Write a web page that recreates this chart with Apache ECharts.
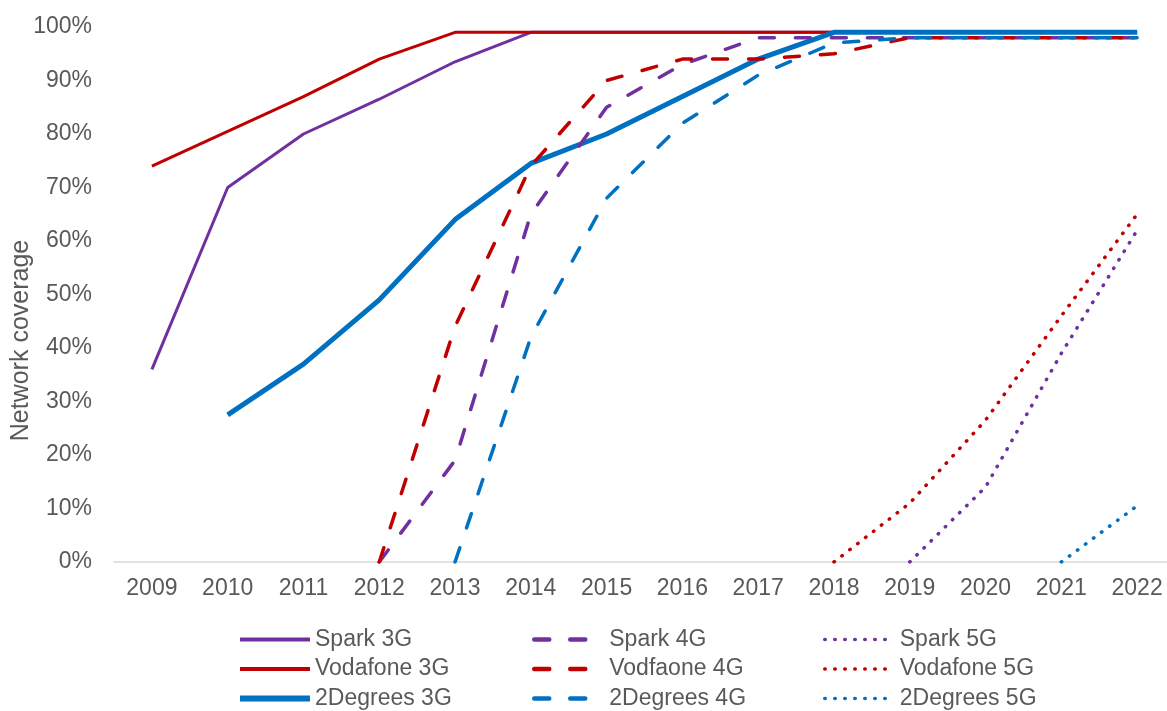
<!DOCTYPE html>
<html>
<head>
<meta charset="utf-8">
<script src="https://cdn.jsdelivr.net/npm/echarts@6/dist/echarts.min.js"></script>
<style>
html,body{margin:0;padding:0;background:#fff;}
#chart{width:1167px;height:711px;}
</style>
</head>
<body>
<div id="chart"></div>
<script>
const years = ['2009','2010','2011','2012','2013','2014','2015','2016','2017','2018','2019','2020','2021','2022'];
const yTicks = [0,10,20,30,40,50,60,70,80,90,100];

const spark3G     = [36, 70, 80, 86.5, 93.5, 99, 99, 99, 99, 99, 99, 99, 99, 99];
const vodafone3G  = [74, 80.5, 87, 94, 99, 99, 99, 99, 99, 99, 99, 99, 99, 99];
const twoDeg3G    = [null, 27.5, 37, 49, 64, 74.5, 80, 87, 94, 99, 99, 99, 99, 99];
const spark4G     = [null, null, null, 0, 19, 65, 85, 93, 98, 98, 98, 98, 98, 98];
const vodafone4G  = [null, null, null, 0, 44, 74, 90, 94, 94, 95, 98, 98, 98, 98];
const twoDeg4G    = [null, null, null, null, 0, 42, 68, 82, 91, 97, 98, 98, 98, 98];
const spark5G     = [null, null, null, null, null, null, null, null, null, null, 0, 14, 39, 62];
const vodafone5G  = [null, null, null, null, null, null, null, null, null, 0, 11, 26.5, 46, 65];
const twoDeg5G    = [null, null, null, null, null, null, null, null, null, null, null, null, 0, 10.5];

const PURPLE = '#7030A0', RED = '#C00000', BLUE = '#0070C0';
const FONT = '"Liberation Sans", Arial, sans-serif';
const TXT = '#595959';
const FS = 23;
const DASH = [15, 21];
const DOT = [0.5, 9.5];

function mk(name, data, color, kind, width) {
  const ls = { color: color, width: width };
  if (kind === 'dash') { ls.type = DASH; ls.cap = 'round'; }
  if (kind === 'dot') { ls.type = DOT; ls.cap = 'round'; }
  return {
    name: name, type: 'line', data: data, symbol: 'none',
    lineStyle: ls, itemStyle: { color: color },
    connectNulls: false, animation: false, silent: true
  };
}

const series = [
  mk('Spark 3G', spark3G, PURPLE, 'solid', 3),
  mk('Vodafone 3G', vodafone3G, RED, 'solid', 3),
  mk('2Degrees 3G', twoDeg3G, BLUE, 'solid', 5),
  mk('Spark 4G', spark4G, PURPLE, 'dash', 3.5),
  mk('Vodfaone 4G', vodafone4G, RED, 'dash', 3.5),
  mk('2Degrees 4G', twoDeg4G, BLUE, 'dash', 3.5),
  mk('Spark 5G', spark5G, PURPLE, 'dot', 3.5),
  mk('Vodafone 5G', vodafone5G, RED, 'dot', 3.5),
  mk('2Degrees 5G', twoDeg5G, BLUE, 'dot', 3.5)
];

function item(name, color, kind, width) {
  const ls = { color: color, width: width, type: 'solid' };
  if (kind === 'dash') { ls.type = DASH; ls.cap = 'round'; }
  if (kind === 'dot') { ls.type = DOT; ls.cap = 'round'; }
  return { name: name, lineStyle: ls, itemStyle: { opacity: 0 } };
}

function legend(left, items) {
  return {
    left: left, top: 623, height: 100, orient: 'vertical',
    itemWidth: 70, itemHeight: 14, itemGap: 6.5,
    selectedMode: false,
    itemStyle: { opacity: 0 },
    textStyle: { fontFamily: FONT, fontSize: FS, color: TXT, lineHeight: 23 },
    data: items
  };
}

const chart = echarts.init(document.getElementById('chart'), null, { renderer: 'canvas' });
chart.setOption({
  backgroundColor: '#fff',
  animation: false,
  grid: { left: 114, right: -8, top: 27, bottom: 149, containLabel: false, outerBoundsMode: 'none' },
  xAxis: {
    type: 'category', data: years, boundaryGap: true,
    axisLine: { show: true, lineStyle: { color: '#d9d9d9', width: 1.5 } },
    axisTick: { show: false },
    axisLabel: { fontFamily: FONT, fontSize: FS, color: TXT, margin: 15, interval: 0 },
    splitLine: { show: false }
  },
  yAxis: {
    type: 'value', min: 0, max: 100, interval: 10,
    name: 'Network coverage', nameLocation: 'middle', nameGap: 80, nameMoveOverlap: false,
    nameTextStyle: { fontFamily: FONT, fontSize: 25, color: TXT, padding: [0, 92, 0, 0] },
    axisLine: { show: false }, axisTick: { show: false },
    splitLine: { show: false },
    axisLabel: { fontFamily: FONT, fontSize: FS, color: TXT, margin: 22,
      formatter: function (v) { return yTicks.indexOf(v) >= 0 ? v + '%' : ''; } }
  },
  legend: [
    legend(232, [item('Spark 3G', PURPLE, 'solid', 4), item('Vodafone 3G', RED, 'solid', 4), item('2Degrees 3G', BLUE, 'solid', 6)]),
    legend(527, [item('Spark 4G', PURPLE, 'dash', 4.5), item('Vodfaone 4G', RED, 'dash', 4.5), item('2Degrees 4G', BLUE, 'dash', 4.5)]),
    legend(818, [item('Spark 5G', PURPLE, 'dot', 3.5), item('Vodafone 5G', RED, 'dot', 3.5), item('2Degrees 5G', BLUE, 'dot', 3.5)])
  ],
  series: series
});
</script>
</body>
</html>
